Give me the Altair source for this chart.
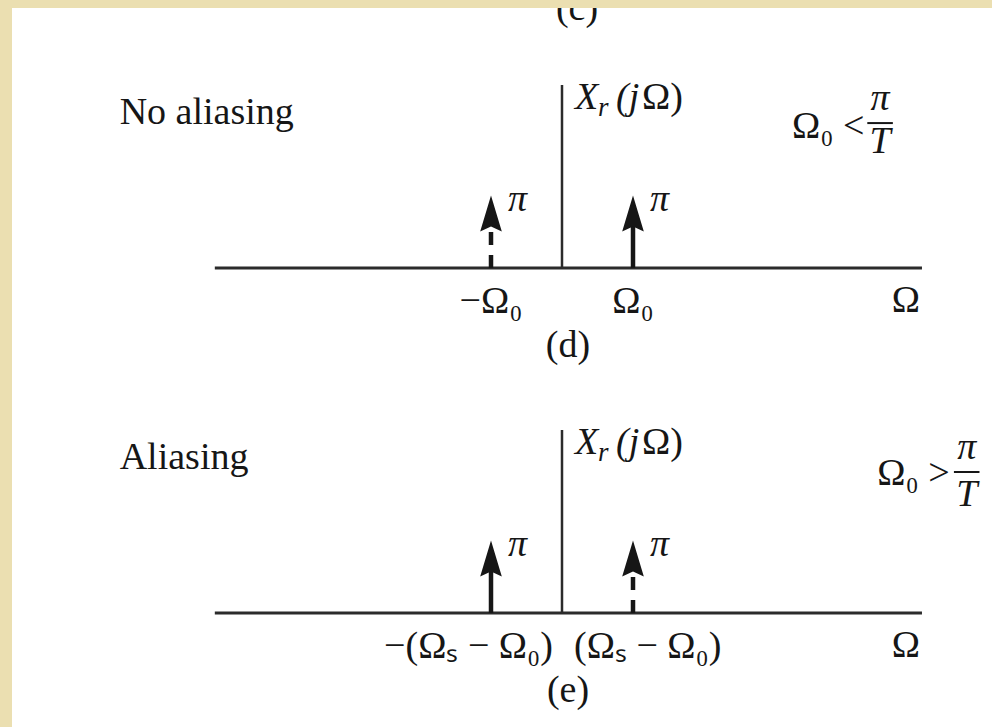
import math
import altair as alt
import pandas as pd

# ---- data -------------------------------------------------------------
# Impulses of X_r(jΩ): position in units of Ω0, area in rad
d_omega = [-1.0, 1.0]
d_area = [math.pi, math.pi]
d_dashed = [True, False]          # (d) no aliasing

e_omega = [-1.0, 1.0]
e_area = [math.pi, math.pi]
e_dashed = [False, True]          # (e) aliasing

area_text = "π"
d_tick_text = ["−Ω₀", "Ω₀"]
e_tick_text = ["−(Ωₛ − Ω₀)", "(Ωₛ − Ω₀)"]

# ---- layout -----------------------------------------------------------
W, H = 992, 727
ORIGIN_PX = 562                  # pixel column of Ω = 0
PX_PER_OMEGA = 71                # pixels per Ω0
PX_PER_AREA = 72.5 / math.pi     # pixels per unit of impulse area
BASE_D, BASE_E = 268, 613        # pixel rows of the two frequency axes
AXIS_LO, AXIS_HI = -4.89, 5.07   # extent of the Ω axis, units of Ω0
V_TOP = 7.93                     # height of the vertical axis

FONT = "Liberation Serif"
FS = 38
INK = "#161616"
LINE = "#2b2b2b"
PAPER = "#ebdfb1"
HEAD = "M0,-1L0.6,1L0,0.72L-0.6,1Z"
HEAD_SIZE = 1300
SHAFT_GAP = 20 / PX_PER_AREA     # shaft stops inside the arrow head

x_scale = alt.Scale(domain=[-ORIGIN_PX / PX_PER_OMEGA, (W - ORIGIN_PX) / PX_PER_OMEGA],
                    nice=False, zero=False)


def y_scale(base):
    return alt.Scale(domain=[(base - H) / PX_PER_AREA, base / PX_PER_AREA],
                     nice=False, zero=False)


def X(field="omega"):
    return alt.X(f"{field}:Q", scale=x_scale, axis=None)


def text(rows, base, align="left", size=FS, italic=False, dx=0, dy=0):
    df = pd.DataFrame(rows)
    return alt.Chart(df).mark_text(
        align=align, baseline="alphabetic", font=FONT, fontSize=size,
        fontStyle="italic" if italic else "normal", color=INK, dx=dx, dy=dy
    ).encode(
        x=X(), y=alt.Y("y:Q", scale=y_scale(base), axis=None), text="t:N"
    )


def panel(base, omega, area, dashed, title, cond_sym, cond, ticks_centered, tick_text, caption):
    ys = y_scale(base)
    df = pd.DataFrame({"omega": omega, "area": area, "dashed": dashed,
                       "floor": [0.0] * len(omega), "label": [area_text] * len(omega)})
    axes = pd.DataFrame({"lo": [AXIS_LO], "hi": [AXIS_HI], "zero": [0.0], "top": [V_TOP]})
    layers = []
    # frequency axis and vertical axis
    layers.append(alt.Chart(axes).mark_rule(color=LINE, strokeWidth=3).encode(
        x=X("lo"), x2="hi", y=alt.Y("zero:Q", scale=ys, axis=None)))
    layers.append(alt.Chart(axes).mark_rule(color=LINE, strokeWidth=2.5).encode(
        x=X("zero"), y=alt.Y("zero:Q", scale=ys, axis=None), y2="top"))
    # impulse shafts
    shaft = alt.Chart(df).transform_calculate(shaft_top=f"datum.area - {SHAFT_GAP}")
    layers.append(shaft.transform_filter("!datum.dashed").mark_rule(
        color=INK, strokeWidth=4.5).encode(
        x=X(), y=alt.Y("floor:Q", scale=ys, axis=None), y2="shaft_top:Q"))
    layers.append(shaft.transform_filter("datum.dashed").mark_rule(
        color=INK, strokeWidth=4.5, strokeDash=[13, 10]).encode(
        x=X(), y=alt.Y("floor:Q", scale=ys, axis=None), y2="shaft_top:Q"))
    # arrow heads, tip at the impulse area
    layers.append(alt.Chart(df).mark_point(
        shape=HEAD, filled=True, size=HEAD_SIZE, color=INK, opacity=1, strokeWidth=0,
        yOffset=math.sqrt(HEAD_SIZE) / 2).encode(
        x=X(), y=alt.Y("area:Q", scale=ys, axis=None)))
    # area labels
    layers.append(alt.Chart(df).mark_text(
        align="left", baseline="alphabetic", font=FONT, fontSize=FS,
        fontStyle="italic", color=INK, dx=17, dy=15).encode(
        x=X(), y=alt.Y("area:Q", scale=ys, axis=None), text="label:N"))
    # tick labels
    if ticks_centered:
        layers.append(text([{"omega": o, "y": 0.0, "t": t} for o, t in zip(omega, tick_text)],
                           base, align="center", dy=45))
    else:
        layers.append(text([{"omega": 0.0, "y": 0.0, "t": tick_text[0]}], base,
                           align="right", dx=-9, dy=45))
        layers.append(text([{"omega": 0.0, "y": 0.0, "t": tick_text[1]}], base,
                           align="left", dx=12, dy=45))
    layers.append(text([{"omega": AXIS_HI, "y": 0.0, "t": "Ω"}], base, align="right", dx=-2, dy=44))
    layers.append(text([{"omega": 0.0, "y": 0.0, "t": caption}], base, align="center", dx=6, dy=89))
    # panel title and spectrum name
    layers.append(text([{"omega": -6.23, "y": 6.25, "t": title}], base))
    yl = 6.9
    layers.append(text([{"omega": 0.0, "y": yl, "t": "X"}], base, italic=True, dx=13))
    layers.append(text([{"omega": 0.0, "y": yl, "t": "r"}], base, italic=True, size=27, dx=36, dy=7))
    layers.append(text([{"omega": 0.0, "y": yl, "t": "(j"}], base, italic=True, dx=54))
    layers.append(text([{"omega": 0.0, "y": yl, "t": "Ω)"}], base, dx=80))
    # sampling condition Ω0 ≶ π/T
    left, base_y, fc, half, bar_y, pi_y, t_y = cond
    layers.append(text([{"omega": left, "y": base_y, "t": "Ω₀ " + cond_sym}], base))
    bar = pd.DataFrame({"a": [fc - half], "b": [fc + half], "y": [bar_y]})
    layers.append(alt.Chart(bar).mark_rule(color=INK, strokeWidth=2).encode(
        x=X("a"), x2="b", y=alt.Y("y:Q", scale=ys, axis=None)))
    layers.append(text([{"omega": fc, "y": pi_y, "t": "π"}], base, align="center", italic=True))
    layers.append(text([{"omega": fc, "y": t_y, "t": "T"}], base, align="center", italic=True))
    return layers


layers = [alt.Chart(pd.DataFrame({"v": [0]})).mark_rect(color="white").encode(
    x=alt.value(0), x2=alt.value(W), y=alt.value(0), y2=alt.value(H))]

# caption of the preceding panel, cut by the page edge
layers.append(text([{"omega": 0.0, "y": (BASE_D - 20) / PX_PER_AREA, "t": "(c)"}],
                   BASE_D, align="center", dx=15))

layers += panel(BASE_D, d_omega, d_area, d_dashed, "No aliasing", "<",
                (3.24, 5.63, 4.48, 0.18, 6.28, 6.85, 5.0), True, d_tick_text, "(d)")
layers += panel(BASE_E, e_omega, e_area, e_dashed, "Aliasing", ">",
                (4.44, 5.55, 5.70, 0.18, 6.11, 6.68, 4.65), False, e_tick_text, "(e)")

# paper margin
layers.append(alt.Chart(pd.DataFrame({"v": [0]})).mark_rect(color=PAPER).encode(
    x=alt.value(0), x2=alt.value(W), y=alt.value(0), y2=alt.value(8)))
layers.append(alt.Chart(pd.DataFrame({"v": [0]})).mark_rect(color=PAPER).encode(
    x=alt.value(0), x2=alt.value(12), y=alt.value(0), y2=alt.value(H)))

chart = alt.layer(*layers).resolve_scale(y="independent").properties(
    width=W, height=H, padding=0, autosize=alt.AutoSizeParams(type="none"),
    background="white"
).configure_view(stroke=None)

chart.save("out.html", embed_options={"renderer": "svg", "actions": False})
